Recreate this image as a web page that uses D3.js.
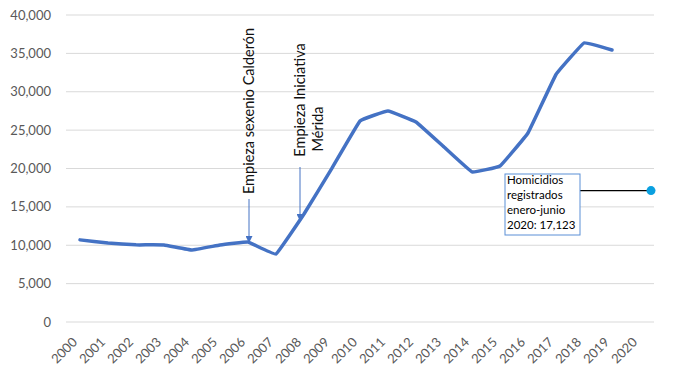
<!DOCTYPE html>
<html><head><meta charset="utf-8">
<script src="https://cdn.jsdelivr.net/npm/d3@7"></script>
<style>body{margin:0;background:#fff}svg{display:block}text{font-family:Lato,"Open Sans",sans-serif}</style>
</head><body><svg id="c" width="673" height="375"></svg>
<script>
const years = ["2000","2001","2002","2003","2004","2005","2006","2007","2008","2009","2010","2011","2012","2013","2014","2015","2016","2017","2018","2019","2020"];
const homicidios = [10700,10290,10050,10040,9380,10030,10420,8860,14070,20050,26190,27490,26060,22800,19560,20330,24630,32250,36350,35440];
const yTicks = [0,5000,10000,15000,20000,25000,30000,35000,40000];
const partial2020 = 17123;
const annotations = [
  {year:"2006", lines:["Empieza sexenio Calderón"]},
  {year:"2008", lines:["Empieza Iniciativa","Mérida"]}
];
const calloutLines = ["Homicidios","registrados","enero-junio","2020: 17,123"];

const svg = d3.select("#c");
const L = 66, R = 654, T = 15, B = 322;
const x = d3.scaleBand().domain(years).range([L,R]);
const y = d3.scaleLinear().domain([0,40000]).range([B,T]);
const cx = d => x(d) + x.bandwidth()/2;
const fmt = d3.format(",");

// grid
svg.append("g").selectAll("line").data(yTicks).join("line")
  .attr("x1",L).attr("x2",R).attr("y1",d=>y(d)).attr("y2",d=>y(d))
  .attr("stroke","#d9d9d9").attr("stroke-width",1);
// y labels
svg.append("g").selectAll("text").data(yTicks).join("text")
  .attr("x",51).attr("y",d=>y(d)+4.5).attr("text-anchor","end")
  .attr("font-size",13).attr("fill","#595959").text(d=>fmt(d));
// x labels
svg.append("g").selectAll("text").data(years).join("text")
  .attr("transform",d=>`translate(${cx(d)-2},${B+21}) rotate(-45)`)
  .attr("text-anchor","end").attr("font-size",13).attr("fill","#595959").text(d=>d);

// line
const pts = homicidios.map((v,i)=>[cx(years[i]), y(v)]);
svg.append("path").attr("d", d3.line().curve(d3.curveCardinal.tension(0.8))(pts))
  .attr("fill","none").attr("stroke","#4472c4").attr("stroke-width",3.5)
  .attr("stroke-linejoin","round").attr("stroke-linecap","round");

// arrow marker
svg.append("defs").append("marker").attr("id","ah").attr("viewBox","0 0 10 10")
  .attr("refX",10).attr("refY",5).attr("markerWidth",7).attr("markerHeight",7)
  .attr("markerUnits","userSpaceOnUse").attr("orient","auto")
  .append("path").attr("d","M0,0L10,5L0,10z").attr("fill","#4472c4");

// annotation Calderón
const a0x = cx("2006")+1;
svg.append("line").attr("x1",a0x).attr("x2",a0x).attr("y1",199).attr("y2",y(homicidios[6])+1)
  .attr("stroke","#4472c4").attr("stroke-width",1).attr("marker-end","url(#ah)");
svg.append("text").attr("transform",`translate(${a0x+5},111) rotate(-90)`)
  .attr("text-anchor","middle").attr("font-size",14.5).attr("fill","#111").text(annotations[0].lines[0]);
// annotation Mérida
const a1x = cx("2008")-4;
svg.append("line").attr("x1",a1x).attr("x2",a1x).attr("y1",167).attr("y2",221)
  .attr("stroke","#4472c4").attr("stroke-width",1).attr("marker-end","url(#ah)");
svg.append("text").attr("transform",`translate(${a1x+5},100) rotate(-90)`)
  .attr("text-anchor","middle").attr("font-size",14.5).attr("fill","#111").text(annotations[1].lines[0]);
svg.append("text").attr("transform",`translate(${a1x+23},129) rotate(-90)`)
  .attr("text-anchor","middle").attr("font-size",14.5).attr("fill","#111").text(annotations[1].lines[1]);

// callout
const dotX = cx("2020")+11, dotY = y(partial2020);
svg.append("line").attr("x1",580).attr("x2",dotX).attr("y1",dotY).attr("y2",dotY)
  .attr("stroke","#000").attr("stroke-width",1.2);
svg.append("rect").attr("x",505).attr("y",174).attr("width",75).attr("height",61)
  .attr("fill","#fff").attr("stroke","#5b8fd6").attr("stroke-width",1);
svg.append("g").selectAll("text").data(calloutLines).join("text")
  .attr("x",507).attr("y",(d,i)=>184+i*15).attr("font-size",11.5).attr("fill","#000").text(d=>d);
svg.append("circle").attr("cx",dotX).attr("cy",dotY).attr("r",4.5).attr("fill","#0aa0e0");
</script></body></html>
